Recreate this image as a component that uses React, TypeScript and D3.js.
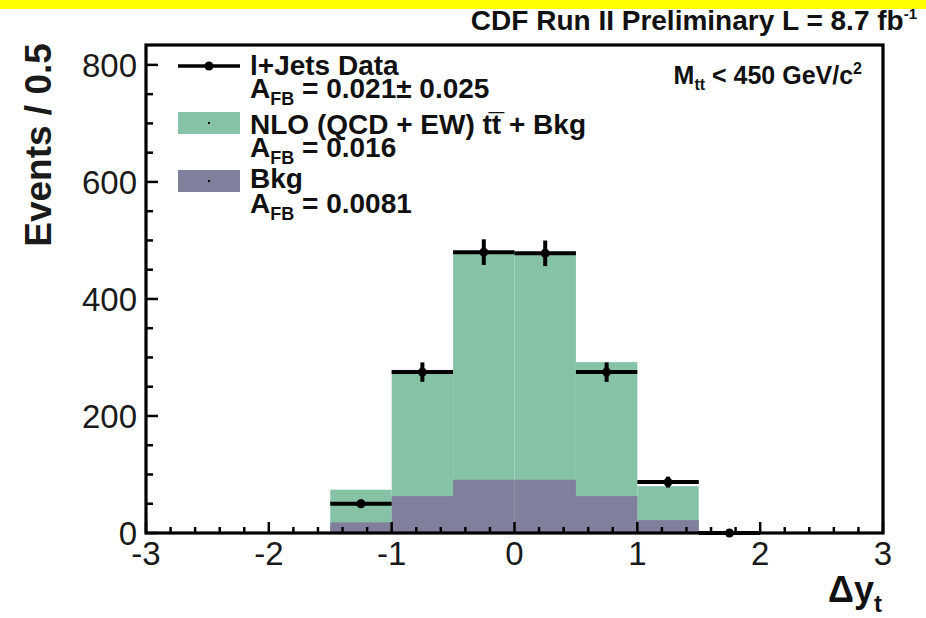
import React from "react";
import * as d3 from "d3";

// Histogram binning in Δy_t (bin width 0.5)
const binLow = [-1.5, -1.0, -0.5, 0.0, 0.5, 1.0];
const binWidth = 0.5;
// Stacked prediction: NLO (QCD + EW) tt̄ + background
const predTotal = [74, 278, 482, 478, 292, 80];
// Background alone
const bkgOnly = [18, 63, 91, 91, 63, 22];

// l+Jets data (bin centres, counts)
const dataCenters = [-1.25, -0.75, -0.25, 0.25, 0.75, 1.25, 1.75];
const dataCounts = [50, 275, 480, 478, 275, 87, 0];

const xTicks = [-3, -2, -1, 0, 1, 2, 3];
const yTicks = [0, 200, 400, 600, 800];

const W = 926;
const H = 618;
const frame = { left: 146, right: 883, top: 45, bottom: 533 };

const GREEN = "#86c3a6";
const PURPLE = "#807f9c";
const FONT = "'Liberation Sans', Arial, Helvetica, sans-serif";

export default function App() {
  const x = d3.scaleLinear().domain([-3, 3]).range([frame.left, frame.right]);
  const y = d3.scaleLinear().domain([0, 834]).range([frame.bottom, frame.top]);

  const xMinor = d3.range(-3, 3.0001, 0.2).map((v) => +v.toFixed(2));
  const yMinor = d3.range(0, 834, 50);

  const markerR = 4.5;

  return (
    <svg
      width={W}
      height={H}
      viewBox={`0 0 ${W} ${H}`}
      style={{ display: "block", position: "absolute", left: 0, top: 0, background: "#fff" }}
    >
      <rect x={0} y={0} width={W} height={H} fill="#fff" />
      <rect x={0} y={0} width={W} height={9} fill="#ffff00" />

      <text
        x={917}
        y={30}
        textAnchor="end"
        fontFamily={FONT}
        fontWeight="bold"
        fontSize={28}
        fill="#111"
      >
        CDF Run II Preliminary L = 8.7 fb
        <tspan fontSize={15} dy={-11}>-1</tspan>
      </text>

      {/* prediction: tt̄ + background */}
      {binLow.map((b, i) => (
        <rect
          key={`p${i}`}
          x={x(b)}
          y={y(predTotal[i])}
          width={x(b + binWidth) - x(b)}
          height={y(0) - y(predTotal[i])}
          fill={GREEN}
        />
      ))}
      {/* background */}
      {binLow.map((b, i) => (
        <rect
          key={`b${i}`}
          x={x(b)}
          y={y(bkgOnly[i])}
          width={x(b + binWidth) - x(b)}
          height={y(0) - y(bkgOnly[i])}
          fill={PURPLE}
        />
      ))}

      {/* data points with errors */}
      {dataCenters.map((c, i) => {
        const n = dataCounts[i];
        const err = Math.sqrt(n);
        const cy = y(n);
        return (
          <g key={`d${i}`} stroke="#000" strokeWidth={4}>
            <line x1={x(c - binWidth / 2)} x2={x(c + binWidth / 2)} y1={cy} y2={cy} />
            {err > 0 && <line x1={x(c)} x2={x(c)} y1={y(n - err)} y2={y(n + err)} />}
            <circle cx={x(c)} cy={cy} r={markerR} fill="#000" stroke="none" />
          </g>
        );
      })}

      {/* axes ticks */}
      <g stroke="#000" strokeWidth={2.5}>
        {xMinor.map((v) => {
          const major = Math.abs(v - Math.round(v)) < 1e-6;
          return (
            <line
              key={`xt${v}`}
              x1={x(v)}
              x2={x(v)}
              y1={frame.bottom}
              y2={frame.bottom - (major ? 11 : 6)}
            />
          );
        })}
        {yMinor.map((v) => {
          const major = v % 200 === 0;
          return (
            <line
              key={`yt${v}`}
              x1={frame.left}
              x2={frame.left + (major ? 12 : 7)}
              y1={y(v)}
              y2={y(v)}
            />
          );
        })}
      </g>

      {/* frame */}
      <rect
        x={frame.left}
        y={frame.top}
        width={frame.right - frame.left}
        height={frame.bottom - frame.top}
        fill="none"
        stroke="#000"
        strokeWidth={3.2}
      />

      {/* tick labels */}
      <g fontFamily={FONT} fontSize={33} fill="#1a1a1a">
        {yTicks.map((v) => (
          <text key={`yl${v}`} x={137} y={y(v)} dy="0.36em" textAnchor="end">
            {v}
          </text>
        ))}
        {xTicks.map((v) => (
          <text key={`xl${v}`} x={x(v)} y={565} textAnchor="middle">
            {v}
          </text>
        ))}
      </g>

      {/* axis titles */}
      <text
        transform="translate(51,145) rotate(-90)"
        textAnchor="middle"
        fontFamily={FONT}
        fontWeight="bold"
        fontSize={37}
        fill="#1a1a1a"
      >
        Events / 0.5
      </text>
      <text x={828} y={602} fontFamily={FONT} fontWeight="bold" fontSize={36} fill="#111">
        Δy
        <tspan fontSize={24} dy={10}>t</tspan>
      </text>

      {/* mass selection */}
      <text x={862} y={84} textAnchor="end" fontFamily={FONT} fontWeight="bold" fontSize={25} fill="#111">
        M
        <tspan fontSize={16} dy={6}>tt</tspan>
        <tspan dy={-6}> &lt; 450 GeV/c</tspan>
        <tspan fontSize={16} dy={-10}>2</tspan>
      </text>

      {/* legend */}
      <g fontFamily={FONT} fontWeight="bold" fontSize={28} fill="#111">
        <line x1={178} x2={240} y1={66} y2={66} stroke="#000" strokeWidth={3.5} />
        <circle cx={209} cy={66} r={markerR} fill="#000" />
        <text x={250} y={75}>l+Jets Data</text>
        <text x={250} y={98}>
          A<tspan fontSize={18} dy={7}>FB</tspan>
          <tspan dy={-7}> = 0.021± 0.025</tspan>
        </text>

        <rect x={178} y={112} width={62} height={22} fill={GREEN} />
        <rect x={208} y={122} width={2} height={2} fill="#000" />
        <text x={250} y={134}>{"NLO (QCD + EW) tt\u0305 + Bkg"}</text>
        <text x={250} y={157}>
          A<tspan fontSize={18} dy={7}>FB</tspan>
          <tspan dy={-7}> = 0.016</tspan>
        </text>

        <rect x={178} y={170} width={62} height={22} fill={PURPLE} />
        <rect x={208} y={180} width={2} height={2} fill="#000" />
        <text x={250} y={188}>Bkg</text>
        <text x={250} y={213}>
          A<tspan fontSize={18} dy={7}>FB</tspan>
          <tspan dy={-7}> = 0.0081</tspan>
        </text>
      </g>
    </svg>
  );
}
